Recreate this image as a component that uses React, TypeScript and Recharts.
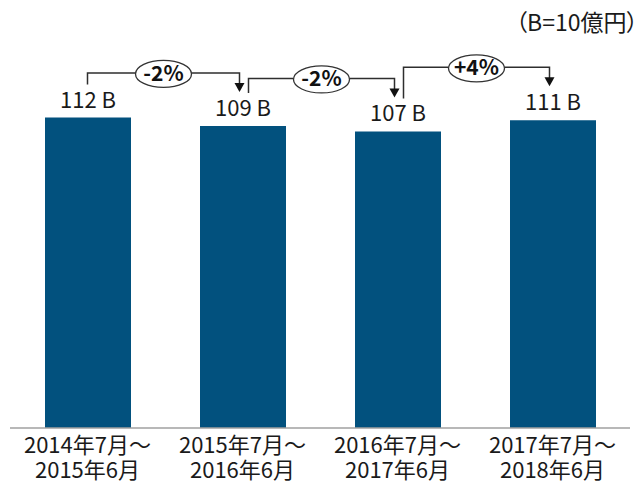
import React from 'react';
import { BarChart, Bar, XAxis, YAxis, LabelList, ReferenceLine } from 'recharts';

// fiscal periods (Jul - Jun)
const periods = [
  '2014年7月～2015年6月',
  '2015年7月～2016年6月',
  '2016年7月～2017年6月',
  '2017年7月～2018年6月',
];
// revenue, in B (= 1 billion yen)
const revenue = [112, 109, 107, 111];
// year-on-year change shown between bars
const changeLabels = ['-2%', '-2%', '+4%'];
const unitNote = '（B=10億円）';

const data = periods.map((period, i) => ({ period, revenue: revenue[i] }));

const BAR_COLOR = '#02517e';
const TEXT_COLOR = '#1a1a1a';
const FONT = '"Noto Sans CJK JP", "Noto Sans", sans-serif';

const PeriodTick = ({ x, y, payload }: any) => {
  const [from, to] = String(payload.value).split('～');
  return (
    <text x={x} textAnchor="middle" fill={TEXT_COLOR} fontSize={22} fontFamily={FONT}>
      <tspan x={x} y={y + 25}>{from}～</tspan>
      <tspan x={x} y={y + 50}>{to}</tspan>
    </text>
  );
};

// elbow arrow from one bar label to the next, with the change in an ellipse
const Connector = ({ x1, y1, x2, y2, label, first }: any) => {
  const sx = first ? x1 : x1 + 6;
  const ex = x2 - 3;
  const startY = y1 - 33;
  const level = y2 - 53;
  const tipY = y2 - 34;
  const midX = (sx + ex) / 2;
  return (
    <g>
      <polyline
        points={`${sx},${startY} ${sx},${level} ${ex},${level} ${ex},${tipY - 8}`}
        fill="none"
        stroke="#2e2e2e"
        strokeWidth={1.5}
      />
      <polygon points={`${ex - 5},${tipY - 9} ${ex + 5},${tipY - 9} ${ex},${tipY}`} fill="#111" />
      <ellipse cx={midX} cy={level + 1} rx={28} ry={13.5} fill="#fff" stroke="#333" strokeWidth={1.3} />
      <text
        x={midX}
        y={level + 8}
        textAnchor="middle"
        fontWeight="bold"
        fontSize={21}
        fill="#111"
        fontFamily={FONT}
      >
        {label}
      </text>
    </g>
  );
};

export default function App() {
  return (
    <div style={{ position: 'absolute', left: 0, top: 0, width: 637, height: 483, background: '#fff', overflow: 'hidden' }}>
      <div
        style={{
          position: 'absolute',
          right: -1,
          top: 7,
          fontSize: 23,
          color: TEXT_COLOR,
          fontFamily: FONT,
          fontFeatureSettings: '"palt"',
          lineHeight: '28px',
          whiteSpace: 'nowrap',
        }}
      >
        {unitNote}
      </div>
      <BarChart width={637} height={483} data={data} margin={{ top: 40, right: 7, left: 10, bottom: 0 }}>
        <XAxis
          dataKey="period"
          height={55}
          interval={0}
          tickLine={false}
          tickSize={0}
          tickMargin={0}
          axisLine={{ stroke: '#a0a0a0', strokeWidth: 1.5 }}
          tick={<PeriodTick />}
        />
        <YAxis hide domain={[0, 140]} />
        <Bar dataKey="revenue" fill={BAR_COLOR} barSize={86} isAnimationActive={false}>
          <LabelList
            dataKey="revenue"
            position="top"
            offset={10}
            formatter={(v: any) => `${v} B`}
            fill={TEXT_COLOR}
            fontSize={22}
            fontFamily={FONT}
          />
        </Bar>
        {changeLabels.map((label, i) => (
          <ReferenceLine
            key={i}
            segment={[
              { x: periods[i], y: revenue[i] },
              { x: periods[i + 1], y: revenue[i + 1] },
            ]}
            shape={(p: any) => <Connector {...p} label={label} first={i === 0} />}
          />
        ))}
      </BarChart>
    </div>
  );
}
